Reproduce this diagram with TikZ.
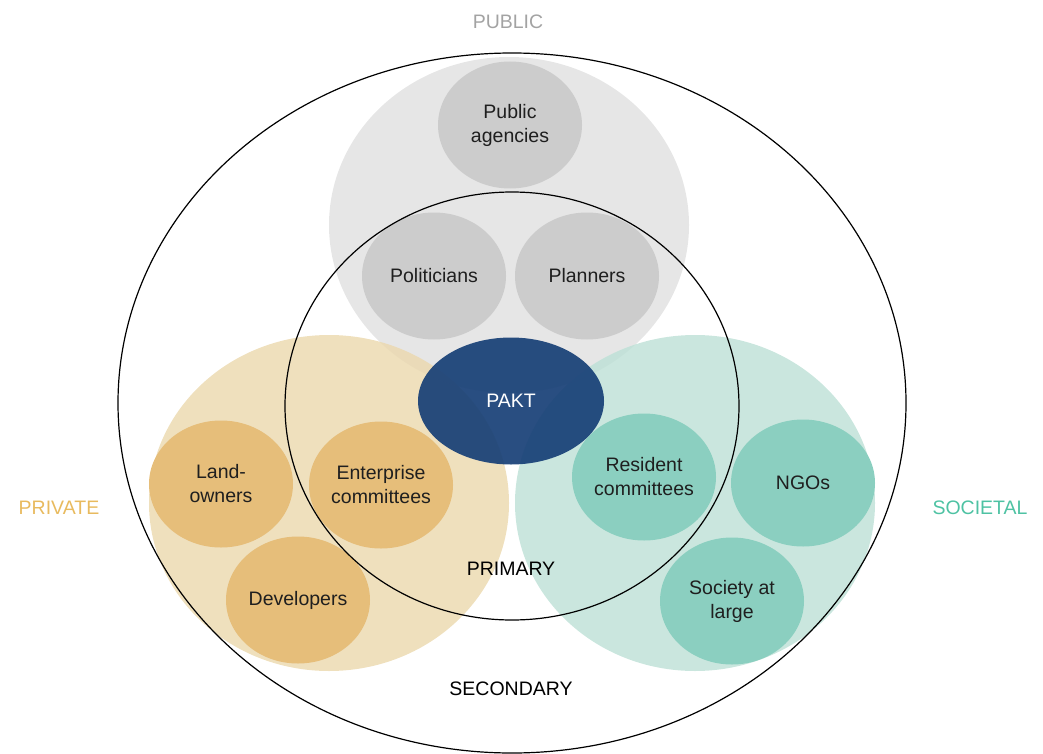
\documentclass[tikz,border=0pt]{standalone}
\usepackage{fontspec}
\setmainfont{Liberation Sans}
\usetikzlibrary{shapes.geometric}
\definecolor{pubbig}{HTML}{E0E0E0}
\definecolor{privbig}{HTML}{EBD8AD}
\definecolor{socbig}{HTML}{BDE0D6}
\definecolor{pubsmall}{HTML}{CCCCCC}
\definecolor{privsmall}{HTML}{E6BE7A}
\definecolor{socsmall}{HTML}{8BCFC0}
\definecolor{paktblue}{HTML}{173F76}
\definecolor{pubtext}{HTML}{A3A3A3}
\definecolor{privtext}{HTML}{E8BA5E}
\definecolor{soctext}{HTML}{4EC2A3}
\begin{document}
\begin{tikzpicture}[x=1pt,y=-1pt, font=\fontsize{19.5}{24}\selectfont, line join=round, line cap=round,
	group/.style={ellipse, minimum width=360pt, minimum height=336pt, inner sep=0pt, fill opacity=0.8},
	actor/.style={ellipse, minimum width=144pt, minimum height=127pt, inner sep=0pt, align=center, text=black!88},
	ring/.style={ellipse, draw=black, line width=1.2pt, inner sep=0pt}]
	\useasboundingbox (0,0) rectangle (1043,754);
	% stakeholder groups
	\node[group, fill=pubbig] (public) at (509,225) {};
	\node[group, fill=privbig] (private) at (329,503) {};
	\node[group, fill=socbig] (societal) at (695,503) {};
	% actors
	\node[actor, fill=pubsmall] (agencies) at (510,125) {Public\\agencies};
	\node[actor, fill=pubsmall] (politicians) at (434,276) {Politicians};
	\node[actor, fill=pubsmall] (planners) at (587,276) {Planners};
	\node[actor, fill=privsmall] (landowners) at (221,484) {Land-\\owners};
	\node[actor, fill=privsmall] (enterprise) at (381,485) {Enterprise\\committees};
	\node[actor, fill=privsmall] (developers) at (298,600) {Developers};
	\node[actor, fill=socsmall] (resident) at (644,477) {Resident\\committees};
	\node[actor, fill=socsmall] (ngos) at (803,483) {NGOs};
	\node[actor, fill=socsmall] (society) at (732,601) {Society at\\large};
	\node[ellipse, fill=paktblue, fill opacity=0.92, text opacity=1, text=white, minimum width=186pt, minimum height=127pt, inner sep=0pt] (pakt) at (511,401) {PAKT};
	% primary and secondary rings
	\node[ring, minimum width=454pt, minimum height=428pt] (primary) at (512,406) {};
	\node[ring, minimum width=788pt, minimum height=700pt] (secondary) at (512,403) {};
	\node (primlabel) at (511,569) {PRIMARY};
	\node (seclabel) at (511,689) {SECONDARY};
	\node[text=pubtext] (publabel) at (508,22) {PUBLIC};
	\node[text=privtext] (privlabel) at (59,508) {PRIVATE};
	\node[text=soctext] (soclabel) at (980,508) {SOCIETAL};
\end{tikzpicture}
\end{document}
